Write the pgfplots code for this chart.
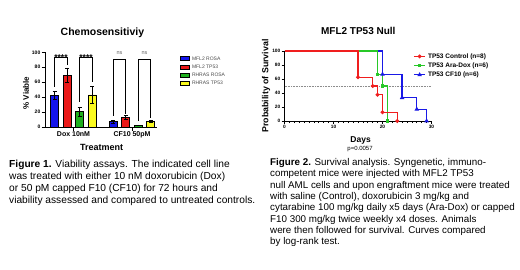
\documentclass[border=0pt]{standalone}
\usepackage{fontspec}
\setmainfont{Liberation Sans}
\usepackage{pgfplots}
\pgfplotsset{compat=1.18}
\definecolor{cblue}{RGB}{20,20,235}
\definecolor{cred}{RGB}{235,25,25}
\definecolor{cgreen}{RGB}{30,175,30}
\definecolor{cyellow}{RGB}{250,250,30}
\definecolor{sred}{RGB}{240,30,30}
\definecolor{sgreen}{RGB}{40,200,40}
\definecolor{sblue}{RGB}{25,25,230}
\pgfplotsset{
  barleg/.style={legend image code/.code={\draw[##1,draw=black,line width=0.5pt] (0pt,-2pt) rectangle (9pt,2pt);}},
  mybar/.style={ybar, barleg, bar width=8pt, bar shift=0pt, draw=black, line width=0.6pt,
    error bars/y dir=both, error bars/y explicit,
    error bars/error bar style={black, line width=0.6pt},
    error bars/error mark options={rotate=90, mark size=2pt, black, line width=0.6pt}},
}
\begin{document}
\begin{tikzpicture}[x=1pt,y=1pt]
\fill[white] (0,0) rectangle (520,-270);
\useasboundingbox (0,0) rectangle (520,-270);
% ---------------- Bar chart ----------------
\begin{axis}[
  at={(45pt,-127pt)}, anchor=south west, scale only axis,
  width=112pt, height=74.7pt,
  xmin=-0.487, xmax=1.427, ymin=0, ymax=100,
  axis lines*=left,
  axis line style={line width=1pt, black},
  xtick={0,1}, xticklabels={Dox 10nM, CF10 50pM},
  ytick={0,20,40,60,80,100},
  tick align=outside, major tick length=3.5pt,
  tick style={black, line width=0.8pt},
  /pgf/number format/assume math mode=true,
  yticklabel style={font=\bfseries\fontsize{5}{6}\selectfont, inner sep=1pt},
  xticklabel style={font=\bfseries\fontsize{7}{8}\selectfont, inner sep=1pt},
  every axis y label/.style={at={(axis description cs:-0.17,0.455)}, rotate=90, anchor=center, font=\bfseries\fontsize{8}{9}\selectfont},
  ylabel={\% Viable},
  every axis x label/.style={at={(axis description cs:0.506,-0.28)}, anchor=center, font=\bfseries\fontsize{9}{10}\selectfont},
  xlabel={Treatment},
  title={Chemosensitiviy},
  title style={at={(axis description cs:0.513,1.187)}, anchor=center, font=\bfseries\fontsize{10.5}{12}\selectfont},
  legend style={at={(axis description cs:1.176,0.975)}, anchor=north west, draw=none, fill=none,
    font=\fontsize{5}{6}\selectfont, text=black!70, row sep=3.7pt,
    nodes={inner sep=0pt, text height=3.6pt, text depth=0.4pt},
    /tikz/every odd column/.append style={column sep=2.6pt}},
  legend cell align=left,
  clip=false,
]
% bars at explicit in-group positions (Dox 10nM at 0, CF10 50pM at 1)
\addplot[mybar, fill=cblue] coordinates {(-0.3205,42.4) +- (0,5.5) (0.6795,7) +- (0,1.8)};
\addlegendentry{MFL2 ROSA}
\addplot[mybar, fill=cred] coordinates {(-0.1068,69.5) +- (0,9.5) (0.8932,12.5) +- (0,2.5)};
\addlegendentry{MFL2 TP53}
\addplot[mybar, fill=cgreen] coordinates {(0.1068,20.5) +- (0,6) (1.1068,2.2) +- (0,0.5)};
\addlegendentry{RHRAS ROSA}
\addplot[mybar, fill=cyellow] coordinates {(0.3205,43) +- (0,11.5) (1.3205,7.2) +- (0,1.2)};
\addlegendentry{RHRAS TP53}
% significance brackets
\addplot[black, line width=0.8pt, forget plot] coordinates {(-0.3205,54) (-0.3205,93.3) (-0.1068,93.3) (-0.1068,83)};
\addplot[black, line width=0.8pt, forget plot] coordinates {(0.1068,34) (0.1068,93.3) (0.3205,93.3) (0.3205,60.5)};
\addplot[black, line width=0.8pt, forget plot] coordinates {(0.6795,15) (0.6795,91) (0.8932,91) (0.8932,18)};
\addplot[black, line width=0.8pt, forget plot] coordinates {(1.1068,8) (1.1068,91) (1.3205,91) (1.3205,12.5)};
\node[anchor=base, font=\bfseries\fontsize{8.5}{9}\selectfont, inner sep=0pt] at (axis cs:-0.2137,89.2) {****};
\node[anchor=base, font=\bfseries\fontsize{8.5}{9}\selectfont, inner sep=0pt] at (axis cs:0.2137,89.2) {****};
\node[anchor=base, font=\fontsize{5.5}{6}\selectfont, text=black!60, inner sep=0pt] at (axis cs:0.7863,96.4) {ns};
\node[anchor=base, font=\fontsize{5.5}{6}\selectfont, text=black!60, inner sep=0pt] at (axis cs:1.2137,96.4) {ns};
\end{axis}
% ---------------- Survival chart ----------------
\begin{axis}[
  at={(284.5pt,-121pt)}, anchor=south west, scale only axis,
  width=147pt, height=70pt,
  xmin=0, xmax=30, ymin=0, ymax=100,
  axis lines*=left,
  axis line style={line width=1pt, black},
  xtick={0,10,20,30}, minor x tick num=9,
  ytick={0,20,40,60,80,100},
  tick align=outside, major tick length=3pt, minor tick length=2pt,
  tick style={black, line width=0.7pt},
  /pgf/number format/assume math mode=true,
  ticklabel style={font=\bfseries\fontsize{4.8}{5}\selectfont, inner sep=1pt},
  every axis y label/.style={at={(axis description cs:-0.126,0.5)}, rotate=90, anchor=center, font=\bfseries\fontsize{8.8}{10}\selectfont},
  ylabel={Probability of Survival},
  every axis x label/.style={at={(axis description cs:0.518,-0.271)}, anchor=center, font=\bfseries\fontsize{8.5}{10}\selectfont},
  xlabel={Days},
  title={MFL2 TP53 Null},
  title style={at={(axis description cs:0.502,1.196)}, anchor=center, font=\bfseries\fontsize{10}{12}\selectfont},
  legend style={at={(axis description cs:0.854,1.0)}, anchor=north west, draw=none, fill=none,
    font=\bfseries\fontsize{6.5}{7}\selectfont, row sep=2.7pt,
    nodes={inner sep=0pt, text height=5pt, text depth=1.5pt},
    /tikz/every odd column/.append style={column sep=2pt}},
  legend cell align=left,
  legend image code/.code={\draw[mark repeat=2, mark phase=2, #1] plot coordinates {(0pt,0pt) (5.8pt,0pt) (11.6pt,0pt)};},
  clip=false,
]
\addlegendimage{sred, line width=1.2pt, mark=*, mark size=1.3pt}
\addlegendentry{TP53 Control (n=8)}
\addlegendimage{sgreen, line width=1.2pt, mark=square*, mark size=1.2pt}
\addlegendentry{TP53 Ara-Dox (n=6)}
\addlegendimage{sblue, line width=1.2pt, mark=triangle*, mark size=1.5pt}
\addlegendentry{TP53 CF10 (n=6)}
\addplot[black!45, densely dotted, line width=0.6pt, forget plot] coordinates {(0,50) (30,50)};
\addplot[sblue, line width=1.2pt, const plot, mark=triangle*, mark size=1.5pt, mark indices={2,3,4,5}, forget plot]
  coordinates {(0,100) (20,66.7) (24,33.3) (27,16.7) (29,0)};
\addplot[sgreen, line width=1.2pt, const plot, mark=square*, mark size=1.2pt, mark indices={2,3,4}, forget plot]
  coordinates {(0,100) (19,66.7) (20,50) (21,0)};
\addplot[sred, line width=1.2pt, const plot, mark=*, mark size=1.3pt, mark indices={2,3,4,5,6}, forget plot]
  coordinates {(0,100) (15,62.5) (18,50) (19,37.5) (20,12.5) (23,0)};
\node[anchor=center, font=\fontsize{6}{7}\selectfont] at (axis description cs:0.514,-0.4) {p=0.0057};
\end{axis}
% ---------------- Captions ----------------
\node[anchor=base west, align=left, inner sep=0pt, font=\fontsize{10.2}{12}\selectfont] at (9,-203.6)
{\textbf{Figure 1.} Viability assays. The indicated cell line\\
was treated with either 10 nM doxorubicin (Dox)\\
or 50 pM capped F10 (CF10) for 72 hours and\\
viability assessed and compared to untreated controls.};
\node[anchor=base west, align=left, inner sep=0pt, font=\fontsize{9.8}{11.3}\selectfont] at (270,-244.6)
{\textbf{Figure 2.} Survival analysis. Syngenetic, immuno-\\
competent mice were injected with MFL2 TP53\\
null AML cells and upon engraftment mice were treated\\
with saline (Control), doxorubicin 3 mg/kg and\\
cytarabine 100 mg/kg daily x5 days (Ara-Dox) or capped\\
F10 300 mg/kg twice weekly x4 doses. Animals\\
were then followed for survival. Curves compared\\
by log-rank test.};
\end{tikzpicture}
\end{document}
